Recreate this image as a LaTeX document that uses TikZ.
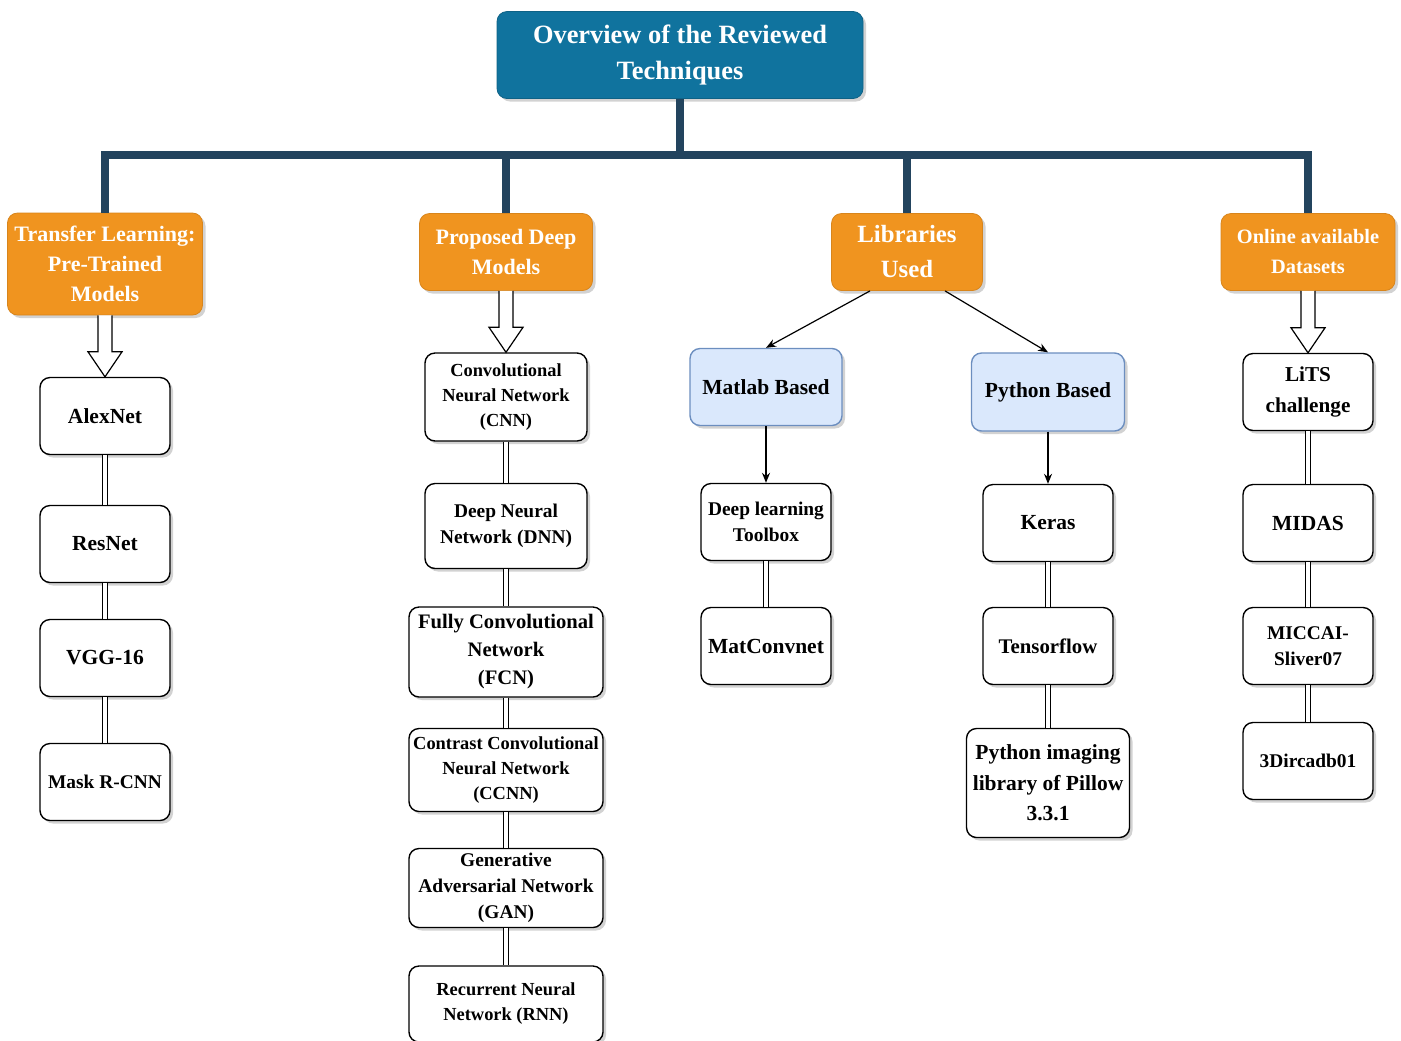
\documentclass[tikz,border=0pt]{standalone}
\usepackage{fontspec}
\setmainfont{Liberation Serif}
\usetikzlibrary{shadows,calc,arrows.meta}

\definecolor{rootblue}{HTML}{10739E}
\definecolor{busblue}{HTML}{23445E}
\definecolor{headorange}{HTML}{F0941F}
\definecolor{libfill}{HTML}{DAE8FC}
\definecolor{libedge}{HTML}{6C8EBF}

% outline arrow from one node down to the next
\newcommand{\hollowarrow}[2]{%
  \draw[line width=0.6pt,fill=white]
    ($(#1.south)+(-7,0)$) -- ($(#2.north)+(-7,-25)$) -- ($(#2.north)+(-17,-25)$)
    -- (#2.north) -- ($(#2.north)+(17,-25)$) -- ($(#2.north)+(7,-25)$)
    -- ($(#1.south)+(7,0)$);}

\begin{document}
\begin{tikzpicture}[x=0.5pt,y=-0.5pt]
\tikzstyle{box}=[rounded corners=5pt,align=center,inner sep=1pt,
  drop shadow={shadow xshift=1.5pt,shadow yshift=-1.5pt,fill=gray!70,opacity=.5}]
\tikzstyle{fbig}=[font=\fontsize{10.75}{13.5}\selectfont\bfseries]
\tikzstyle{fmid}=[font=\fontsize{9.7}{13}\selectfont\bfseries]
\tikzstyle{fsmall}=[font=\fontsize{9.2}{12.5}\selectfont\bfseries]
\tikzstyle{rootbox}=[box,draw=rootblue!85!black,fill=rootblue,text=white,
  minimum width=183pt,minimum height=43.5pt,font=\fontsize{13.2}{18}\selectfont\bfseries]
\tikzstyle{headbox}=[box,draw=headorange!90!black,fill=headorange,text=white,
  minimum height=38.5pt,font=\fontsize{11}{15}\selectfont\bfseries]
\tikzstyle{itembox}=[box,draw=black,line width=0.7pt,fill=white,
  minimum width=65pt,minimum height=38.5pt,fbig]
\tikzstyle{libbox}=[box,draw=libedge,line width=0.7pt,fill=libfill,
  minimum width=76pt,minimum height=38.5pt,fbig]
\tikzstyle{dlink}=[double,double distance=1.6pt,line width=0.6pt]
\tikzstyle{bus}=[line width=4pt,draw=busblue]
\tikzstyle{libarrow}=[-{Stealth[length=5pt,width=4pt]},line width=0.6pt]

\useasboundingbox (0,0) rectangle (1401,1040);

% top of the tree
\node[rootbox](root) at (680,55) {Overview of the Reviewed\\Techniques};
\node[headbox,minimum width=97.5pt,minimum height=51pt](tl) at (105,264)
  {Transfer Learning:\\Pre-Trained\\Models};
\node[headbox,minimum width=86.5pt](pd) at (506,252) {Proposed Deep\\Models};
\node[headbox,minimum width=75.5pt,font=\fontsize{12.4}{17.5}\selectfont\bfseries](lu)
  at (907,252) {Libraries\\Used};
\node[headbox,minimum width=87pt,font=\fontsize{10.2}{15}\selectfont\bfseries](od)
  at (1308,252) {Online available\\Datasets};

\coordinate (j) at (680,155);
\draw[bus] (root.south) -- (j);
\draw[bus] (tl.north) |- (j) -| (od.north);
\draw[bus] (pd.north) -- (pd.north |- j);
\draw[bus] (lu.north) -- (lu.north |- j);

% pre-trained models
\node[itembox](alex) at (105,416) {AlexNet};
\node[itembox](res) at (105,544) {ResNet};
\node[itembox](vgg) at (105,658) {VGG-16};
\node[itembox,fmid](mask) at (105,782) {Mask R-CNN};

% proposed deep models
\node[itembox,fsmall,minimum width=81pt,minimum height=44pt](cnn) at (506,397)
  {Convolutional\\Neural Network\\(CNN)};
\node[itembox,fmid,minimum width=81pt,minimum height=42.5pt](dnn) at (506,526)
  {Deep Neural\\Network (DNN)};
\node[itembox,font=\fontsize{10.3}{14}\selectfont\bfseries,minimum width=97pt,
  minimum height=45pt](fcn) at (506,652) {Fully Convolutional\\Network\\(FCN)};
\node[itembox,fsmall,minimum width=97pt,minimum height=41.5pt](ccnn) at (506,770)
  {Contrast Convolutional\\Neural Network\\(CCNN)};
\node[itembox,fmid,minimum width=97pt,minimum height=39.5pt](gan) at (506,888)
  {Generative\\Adversarial Network\\(GAN)};
\node[itembox,fsmall,minimum width=97pt,minimum height=38pt](rnn) at (506,1004)
  {Recurrent Neural\\Network (RNN)};

% libraries
\node[libbox](mat) at (766,387) {Matlab Based};
\node[libbox,minimum width=76.5pt,minimum height=39pt](py) at (1048,392) {Python Based};
\node[itembox,fmid](dlt) at (766,522) {Deep learning\\Toolbox};
\node[itembox](mcn) at (766,646) {MatConvnet};
\node[itembox](keras) at (1048,523) {Keras};
\node[itembox,font=\fontsize{10.4}{13.5}\selectfont\bfseries](tf) at (1048,646) {Tensorflow};
\node[itembox,font=\fontsize{10.75}{15.2}\selectfont\bfseries,minimum width=81.5pt,
  minimum height=54.5pt](pil) at (1048,783) {Python imaging\\library of Pillow\\3.3.1};

% datasets
\node[itembox,font=\fontsize{10.6}{15.5}\selectfont\bfseries](lits) at (1308,392)
  {LiTS\\challenge};
\node[itembox](midas) at (1308,523) {MIDAS};
\node[itembox,fmid](miccai) at (1308,646) {MICCAI-\\Sliver07};
\node[itembox,fmid](dirc) at (1308,761) {3Dircadb01};

\hollowarrow{tl}{alex}
\hollowarrow{pd}{cnn}
\hollowarrow{od}{lits}

\draw[libarrow] ($(lu.south)+(-37,0)$) -- (mat.north);
\draw[libarrow] ($(lu.south)+(38,0)$) -- (py.north);
\draw[libarrow] (mat) -- (dlt);
\draw[libarrow] (py) -- (keras);

\path (alex) edge[dlink] (res) % double links
      (res) edge[dlink] (vgg)
      (vgg) edge[dlink] (mask)
      (cnn) edge[dlink] (dnn)
      (dnn) edge[dlink] (fcn)
      (fcn) edge[dlink] (ccnn)
      (ccnn) edge[dlink] (gan)
      (gan) edge[dlink] (rnn)
      (dlt) edge[dlink] (mcn)
      (keras) edge[dlink] (tf)
      (tf) edge[dlink] (pil)
      (lits) edge[dlink] (midas)
      (midas) edge[dlink] (miccai)
      (miccai) edge[dlink] (dirc);

\end{tikzpicture}
\end{document}
